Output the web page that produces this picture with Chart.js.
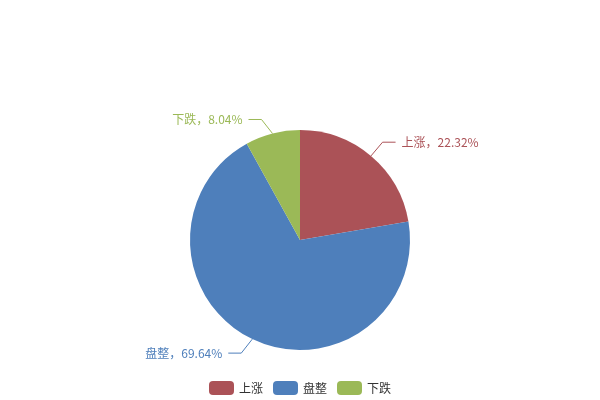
<!DOCTYPE html>
<html lang="zh">
<head>
<meta charset="UTF-8">
<title>涨跌分布</title>
<script src="https://cdn.jsdelivr.net/npm/chart.js@4/dist/chart.umd.min.js"></script>
<style>
  html, body { margin: 0; padding: 0; background: #fff; }
  #wrap { width: 600px; height: 400px; }
</style>
</head>
<body>
<div id="wrap"><canvas id="chart"></canvas></div>
<script>
const labels = ['上涨', '盘整', '下跌'];
const values = [22.32, 69.64, 8.04];
const colors = ['#ab5257', '#4e7fbb', '#9bb957'];

const FONT = '"Noto Sans CJK SC", "Noto Sans", sans-serif';

// leader lines + labels outside each slice
const outLabels = {
  id: 'outLabels',
  afterDatasetsDraw(chart) {
    const ctx = chart.ctx;
    const meta = chart.getDatasetMeta(0);
    ctx.save();
    ctx.font = '12px ' + FONT;
    ctx.lineWidth = 1;
    meta.data.forEach((arc, i) => {
      const p = arc.getProps(['x', 'y', 'startAngle', 'endAngle', 'outerRadius'], true);
      const mid = (p.startAngle + p.endAngle) / 2;
      const ux = Math.cos(mid), uy = Math.sin(mid);
      const ex = p.x + ux * p.outerRadius, ey = p.y + uy * p.outerRadius;
      const dir = ux >= 0 ? 1 : -1;
      const bx = ex + dir * Math.max(11, Math.abs(ux) * 18);
      const by = ey + Math.max(-14, Math.min(14, uy * 18));
      const hx = bx + dir * 13;
      ctx.strokeStyle = colors[i];
      ctx.beginPath();
      ctx.moveTo(ex, ey);
      ctx.lineTo(bx, by);
      ctx.lineTo(hx, by);
      ctx.stroke();
      ctx.fillStyle = colors[i];
      ctx.textBaseline = 'middle';
      ctx.textAlign = dir > 0 ? 'left' : 'right';
      ctx.fillText(labels[i] + '，' + values[i].toFixed(2) + '%', hx + dir * 6, by);
    });
    ctx.restore();
  }
};

// legend at the bottom with rounded swatches
const bottomLegend = {
  id: 'bottomLegend',
  afterDraw(chart) {
    const ctx = chart.ctx;
    ctx.save();
    ctx.font = '12px ' + FONT;
    const bw = 25, bh = 14, gap = 5, itemGap = 10;
    const widths = labels.map(l => bw + gap + ctx.measureText(l).width);
    const total = widths.reduce((a, b) => a + b, 0) + itemGap * (labels.length - 1);
    let x = chart.width / 2 - total / 2;
    const y = 381;
    labels.forEach((l, i) => {
      ctx.fillStyle = colors[i];
      ctx.beginPath();
      ctx.roundRect(x, y, bw, bh, 4);
      ctx.fill();
      ctx.fillStyle = '#333';
      ctx.textBaseline = 'middle';
      ctx.textAlign = 'left';
      ctx.fillText(l, x + bw + gap, y + bh / 2 + 0.5);
      x += widths[i] + itemGap;
    });
    ctx.restore();
  }
};

new Chart(document.getElementById('chart'), {
  type: 'pie',
  data: {
    labels: labels,
    datasets: [{
      data: values,
      backgroundColor: colors,
      borderWidth: 0
    }]
  },
  options: {
    responsive: true,
    maintainAspectRatio: false,
    animation: false,
    layout: { padding: { top: 130, bottom: 50, left: 0, right: 0 } },
    plugins: {
      legend: { display: false },
      tooltip: { enabled: false }
    }
  },
  plugins: [outLabels, bottomLegend]
});
</script>
</body>
</html>
